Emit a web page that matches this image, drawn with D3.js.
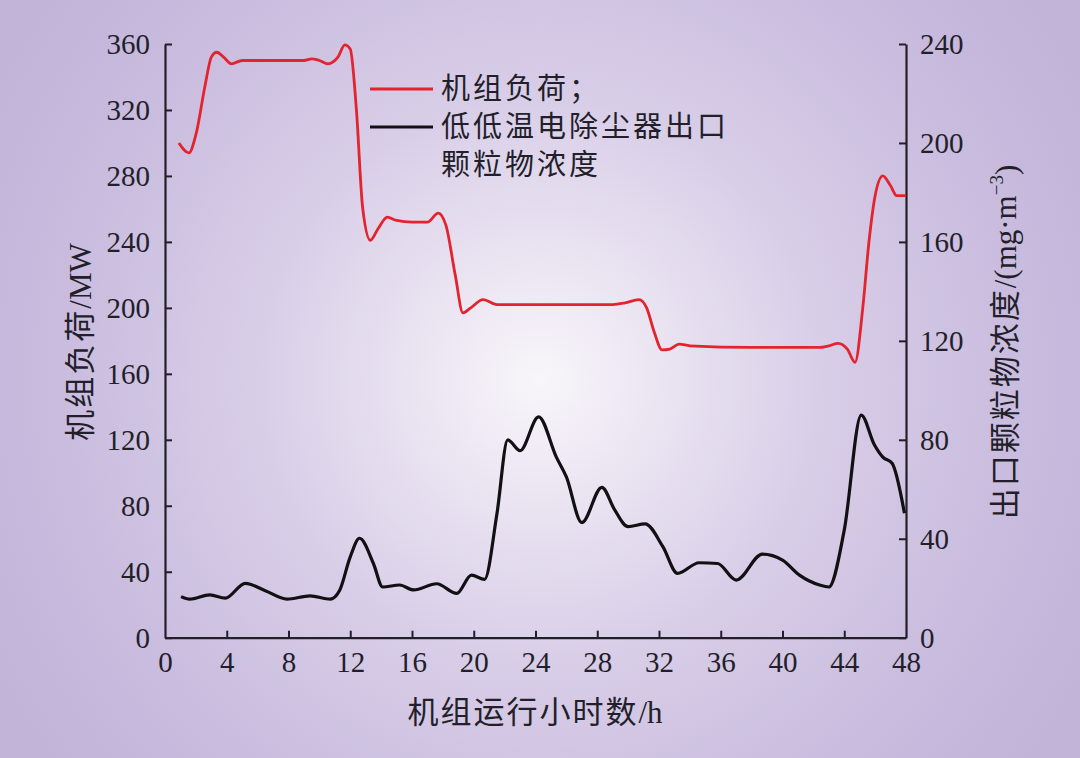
<!DOCTYPE html>
<html><head><meta charset="utf-8">
<script src="https://cdn.jsdelivr.net/npm/d3@7"></script>
<style>html,body{margin:0;padding:0;background:#c3b5da;}svg{display:block;}</style>
</head><body>
<svg id="chart" width="1080" height="758"></svg>
<script>
// ---- data ----
const xTicks = [0,4,8,12,16,20,24,28,32,36,40,44,48];
const leftTicks = [0,40,80,120,160,200,240,280,320,360];
const rightTicks = [0,40,80,120,160,200,240];

const loadHours = [0.9,1.55,2.0,2.6,3.0,3.35,3.8,4.3,5,7,9,9.5,10.0,10.55,11.2,11.65,12.0,12.4,12.8,13.3,13.8,14.4,15,16,17,17.7,18.2,18.8,19.3,19.8,20.6,21.5,25,29,29.8,30.7,31.2,31.7,32.2,32.7,33.3,34,38,42.4,43.0,43.6,44.2,44.7,45.2,45.6,46.0,46.5,47.0,47.4,48];
const loadValues = [300,294,305,335,352,355,352,348,350,350,350,351,350,348,352,359.5,357,320,261,241,248,255,253,252,252,257.5,250,220,197,200,205,202,202,202,203,205,200,185,174.5,175,178,177,176,176,177,178.5,175,167,200,240,268,280,274,268,268];

const dustHours = [1.04,1.6,2.9,3.9,5.2,6.5,7.9,9.4,10.7,11.3,12.0,12.6,13.5,14.1,15.2,16.1,17.6,18.9,19.85,20.7,21.5,22.2,23.0,24.2,25.35,26.0,27.0,28.3,29.1,30.0,31.1,32.25,33.2,34.6,35.8,37.0,38.7,40.0,41.1,42.4,43.0,44.0,45.1,45.95,46.5,47.1,47.9];
const dustValues = [16.6,15.6,17.3,16,22,19,15.6,16.9,15.6,19,32.7,40.2,30,20.5,21.3,19.3,21.8,17.9,25.3,23.6,50,80,75.6,89.3,73,65,46.5,60.8,52,44.9,46,36.8,26,30.3,30,23.3,33.8,31.4,25.3,21.3,20.5,43.5,90,78,73,70.5,50.3];

const legendLabels = ["机组负荷；","低低温电除尘器出口","颗粒物浓度"];

// ---- layout ----
const svg = d3.select("#chart");
const W = 1080, H = 758;
const m = {left:165, right:906, top:44, bottom:637.7};

const defs = svg.append("defs");
const grad = defs.append("radialGradient").attr("id","bg")
  .attr("gradientUnits","userSpaceOnUse").attr("cx",540).attr("cy",380).attr("r",620);
grad.append("stop").attr("offset",0).attr("stop-color","#f8f6fa");
grad.append("stop").attr("offset",0.12).attr("stop-color","#f0ebf5");
grad.append("stop").attr("offset",0.45).attr("stop-color","#d9cee8");
grad.append("stop").attr("offset",0.75).attr("stop-color","#cabddf");
grad.append("stop").attr("offset",1).attr("stop-color","#c2b3d9");
svg.append("rect").attr("width",W).attr("height",H).attr("fill","url(#bg)");

const x = d3.scaleLinear().domain([0,48]).range([m.left,m.right]);
const yL = d3.scaleLinear().domain([0,360]).range([m.bottom,m.top]);
const yR = d3.scaleLinear().domain([0,240]).range([m.bottom,m.top]);

const numFont = "'Liberation Serif','Times New Roman',serif";
const cjkFont = "'Noto Sans CJK SC','Liberation Serif',sans-serif";
const axisColor = "#231f2a";

function styleAxis(g){
  g.selectAll("path.domain").attr("stroke",axisColor).attr("stroke-width",2.2);
  g.selectAll(".tick line").attr("stroke",axisColor).attr("stroke-width",2);
  g.selectAll(".tick text").attr("fill","#231f2a").style("font-family",numFont).style("font-size","29px");
}

// x axis
const gx = svg.append("g").attr("transform",`translate(0,${m.bottom})`)
  .call(d3.axisBottom(x).tickValues(xTicks).tickSize(-7).tickSizeOuter(0).tickPadding(14));
styleAxis(gx);
gx.selectAll(".tick line").filter(d=>d===0||d===48).remove();

// left axis
const gl = svg.append("g").attr("transform",`translate(${m.left},0)`)
  .call(d3.axisLeft(yL).tickValues(leftTicks).tickSize(-7).tickSizeOuter(0).tickPadding(15));
styleAxis(gl);
gl.selectAll(".tick text").attr("dy","0.34em");

// right axis
const gr = svg.append("g").attr("transform",`translate(${m.right},0)`)
  .call(d3.axisRight(yR).tickValues(rightTicks).tickSize(-7).tickSizeOuter(0).tickPadding(14));
styleAxis(gr);
gr.selectAll(".tick text").attr("dy","0.34em");

// lines
const lineL = d3.line().x((d,i)=>x(loadHours[i])).y(d=>yL(d)).curve(d3.curveMonotoneX);
const lineR = d3.line().x((d,i)=>x(dustHours[i])).y(d=>yR(d)).curve(d3.curveMonotoneX);

svg.append("path").attr("d",lineR(dustValues)).attr("fill","none")
  .attr("stroke","#111013").attr("stroke-width",3.2).attr("stroke-linejoin","round");
svg.append("path").attr("d",lineL(loadValues)).attr("fill","none")
  .attr("stroke","#e3232d").attr("stroke-width",2.8).attr("stroke-linejoin","round");

// legend
const lg = svg.append("g");
const legendColors = ["#e3232d","#111013"];
const ly = [89,127,165];
legendColors.forEach((c,i)=>{
  lg.append("line").attr("x1",370).attr("x2",433).attr("y1",ly[i]).attr("y2",ly[i])
    .attr("stroke",c).attr("stroke-width",2.8);
});
legendLabels.forEach((t,i)=>{
  lg.append("text").attr("x",441).attr("y",ly[i]).attr("dy","0.36em")
    .style("font-family",cjkFont).style("font-size","29px").style("letter-spacing","3px")
    .attr("fill","#231f2a").text(t);
});

// axis titles
const xt = svg.append("text").attr("x",535).attr("y",712).attr("dy","0.35em")
  .attr("text-anchor","middle").attr("fill","#231f2a").style("font-size","31px");
xt.append("tspan").style("font-family",cjkFont).style("letter-spacing","2px").text("机组运行小时数");
xt.append("tspan").style("font-family",numFont).text("/h");

const ltl = svg.append("text").attr("transform","translate(80,342) rotate(-90)").attr("dy","0.35em")
  .attr("text-anchor","middle").attr("fill","#231f2a").style("font-size","31px");
ltl.append("tspan").style("font-family",cjkFont).style("letter-spacing","2px").text("机组负荷");
ltl.append("tspan").style("font-family",numFont).text("/MW");

const rtl = svg.append("text").attr("transform","translate(1005,342) rotate(-90)").attr("dy","0.35em")
  .attr("text-anchor","middle").attr("fill","#231f2a").style("font-size","31px");
rtl.append("tspan").style("font-family",cjkFont).style("letter-spacing","2px").text("出口颗粒物浓度");
rtl.append("tspan").style("font-family",numFont).text("/(mg·m");
rtl.append("tspan").style("font-family",numFont).style("font-size","19px").attr("dy","-0.7em").text("−3");
rtl.append("tspan").style("font-family",numFont).attr("dy","0.45em").text(")");
</script>
</body></html>
